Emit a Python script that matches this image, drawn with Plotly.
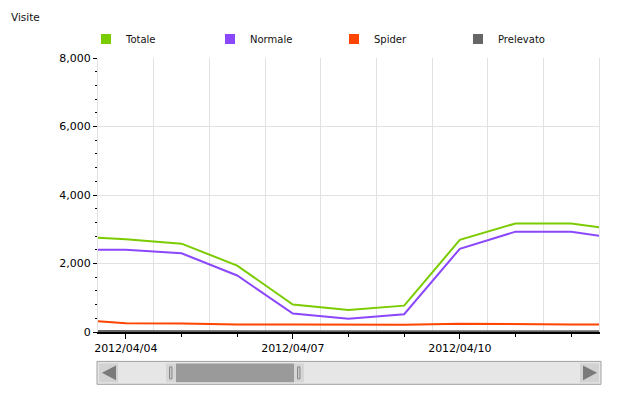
import plotly.graph_objects as go

# ---- data ----
dates = ["2012-04-03", "2012-04-04", "2012-04-05", "2012-04-06", "2012-04-07",
         "2012-04-08", "2012-04-09", "2012-04-10", "2012-04-11", "2012-04-12",
         "2012-04-13"]
totale = [2800, 2710, 2580, 1940, 800, 640, 770, 2690, 3170, 3170, 2950]
normale = [2400, 2400, 2300, 1650, 540, 390, 520, 2430, 2930, 2930, 2690]
spider = [370, 256, 247, 220, 220, 210, 210, 238, 220, 220, 220]
prelevato = [30, 25, 25, 20, 20, 20, 20, 25, 20, 20, 20]

series_names = ["Totale", "Normale", "Spider", "Prelevato"]
series_values = [totale, normale, spider, prelevato]
colors = ["#7acc00", "#8b47fb", "#ff4500", "#666666"]

x_range = ["2012-04-03 12:00", "2012-04-12 12:00"]
y_range = [0, 8000]
DAY = 86400000

FONT = "DejaVu Sans"
OFF = 8  # page body margin of the html page
W, H = 627 - 2 * OFF, 394 - 2 * OFF
# plot area in screen pixels
L, R, T, B = 98, 599, 57.5, 332.5
Lf, Rf, Tf, Bf = L - OFF, R - OFF, T - OFF, B - OFF


def px(x):  # screen x -> paper
    return (x - L) / (R - L)


def py(y):  # screen y -> paper
    return (B - y) / (B - T)


fig = go.Figure()

for name, vals, col in zip(series_names, series_values, colors):
    fig.add_trace(go.Scatter(x=dates, y=vals, mode="lines", name=name,
                             line=dict(color=col, width=2),
                             showlegend=False, xaxis="x", yaxis="y"))

# legend entries with square symbols
for name, col in zip(series_names, colors):
    fig.add_trace(go.Scatter(x=[None], y=[None], mode="markers", name=name,
                             marker=dict(symbol="square", size=10, color=col),
                             showlegend=True, xaxis="x2", yaxis="y"))

GRID = "#e2e2e2"

shapes = []


def rect(x0, x1, y0, y1, fill, line=None, lw=1):
    shapes.append(dict(type="rect", xref="paper", yref="paper",
                       x0=px(x0), x1=px(x1), y0=py(y1), y1=py(y0),
                       fillcolor=fill,
                       line=dict(color=line or fill, width=lw if line else 0),
                       layer="above"))


def tri(pts, fill):
    path = "M " + " L ".join(f"{px(a)},{py(b)}" for a, b in pts) + " Z"
    shapes.append(dict(type="path", xref="paper", yref="paper", path=path,
                       fillcolor=fill, line=dict(color=fill, width=0),
                       layer="above"))


# scrollbar widget
rect(97, 601, 362, 385, "#e6e6e6", "#a0a0a0", 1)
rect(99, 118, 364, 383, "#d2d2d2")
tri([(102, 373.5), (116, 366), (116, 381)], "#7a7a7a")
rect(580, 599, 364, 383, "#d2d2d2")
tri([(597, 373.5), (583, 366), (583, 381)], "#7a7a7a")
rect(176, 294, 364, 383, "#9a9a9a")
rect(166, 176, 364, 383, "#d6d6d6")
rect(169.5, 172, 367.5, 379.5, "#c8c8c8", "#888888", 1)
rect(294, 304, 364, 383, "#d6d6d6")
rect(297.5, 300, 367.5, 379.5, "#c8c8c8", "#888888", 1)

fig.update_layout(
    width=W, height=H,
    margin=dict(l=Lf, r=W - Rf, t=Tf, b=H - Bf, pad=0),
    paper_bgcolor="white", plot_bgcolor="white",
    font=dict(family=FONT, color="#000000", size=11),
    title=dict(text="Visite", xref="container", yref="container",
               x=(11 - OFF) / W, xanchor="left", y=1 - (17 - OFF) / H,
               yanchor="middle",
               font=dict(family=FONT, size=10.5, color="#111111")),
    showlegend=True,
    legend=dict(orientation="h", xref="paper", yref="paper",
                x=px(86), xanchor="left", y=py(38.5), yanchor="middle",
                entrywidth=79, entrywidthmode="pixels", itemwidth=30,
                font=dict(family=FONT, size=10, color="#111111"),
                bgcolor="rgba(0,0,0,0)", traceorder="normal"),
    xaxis=dict(type="date", range=x_range, tick0="2012-04-04", dtick=3 * DAY,
               tickformat="%Y/%m/%d", ticks="outside", ticklen=5,
               tickcolor="#000000", tickwidth=1, showgrid=False,
               showline=True, linecolor="#000000", linewidth=2,
               zeroline=False, fixedrange=True,
               tickfont=dict(family=FONT, size=11, color="#000000"),
               minor=dict(tick0="2012-04-04", dtick=DAY, ticks="outside",
                          ticklen=3, tickcolor="#000000", showgrid=False)),
    xaxis2=dict(type="date", overlaying="x", matches="x", anchor="y",
                side="bottom", tick0="2012-04-03 12:00", dtick=DAY,
                showgrid=True, gridcolor=GRID, gridwidth=1,
                showticklabels=False, ticks="", showline=False,
                zeroline=False, fixedrange=True),
    yaxis=dict(range=y_range, dtick=2000, tickformat=",d", ticks="outside",
               ticklen=4, tickcolor="#000000", tickwidth=1,
               showgrid=True, gridcolor=GRID, gridwidth=1,
               showline=True, linecolor=GRID, mirror=True,
               zeroline=False, fixedrange=True,
               tickfont=dict(family=FONT, size=11, color="#000000"),
               minor=dict(dtick=400, ticks="outside", ticklen=2,
                          tickcolor="#000000", showgrid=False)),
    shapes=shapes,
)

fig.write_html("out.html", config={"displayModeBar": False})
